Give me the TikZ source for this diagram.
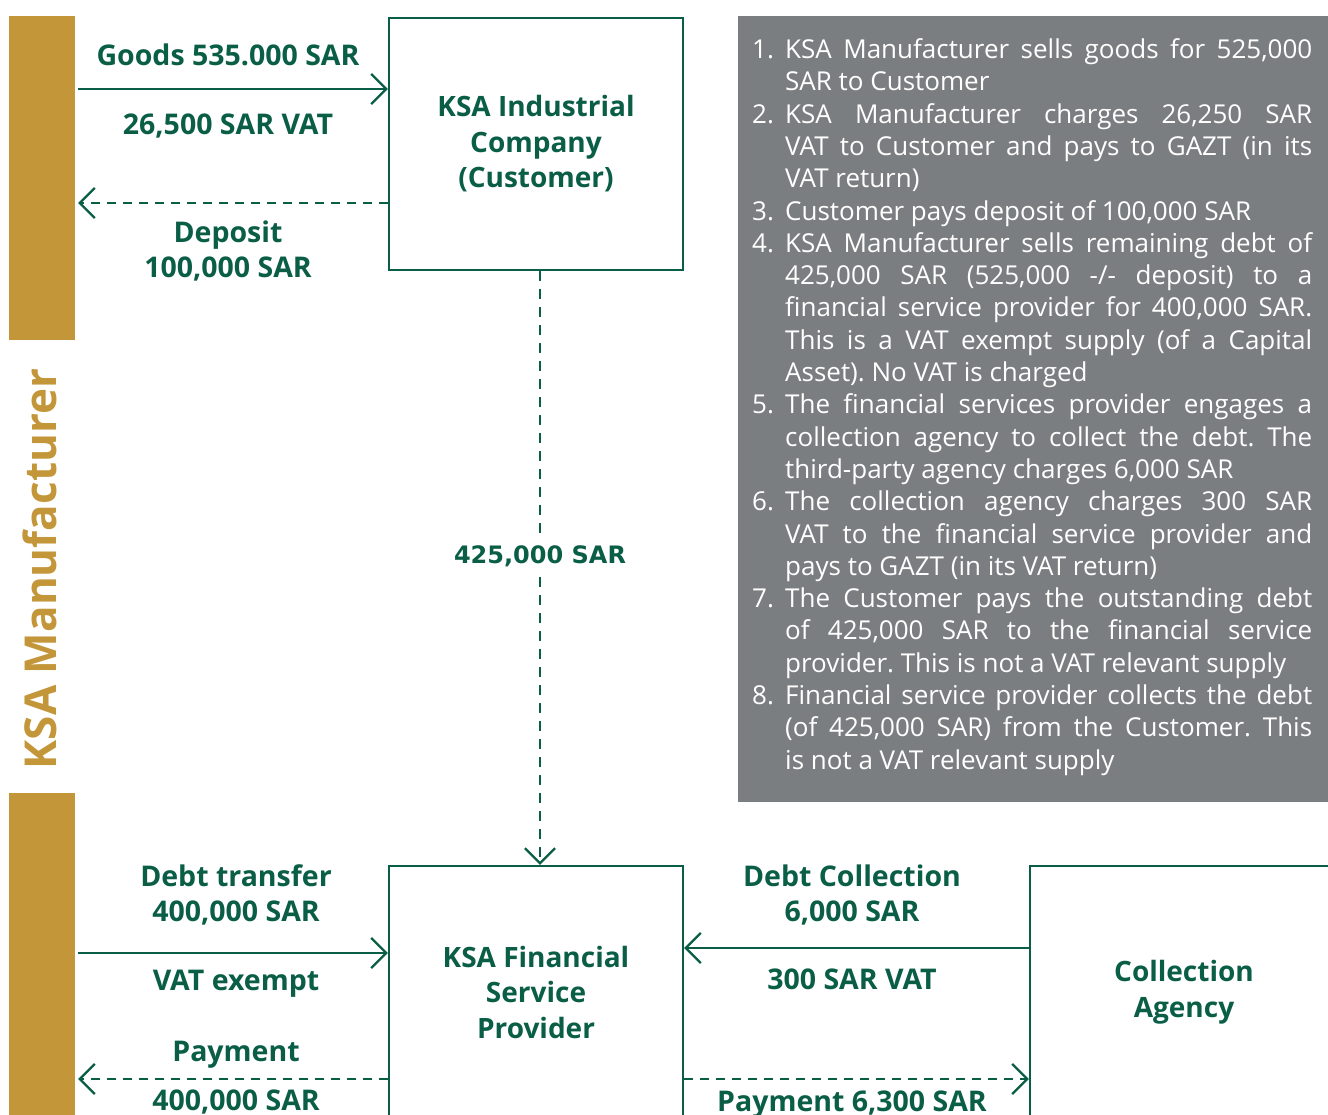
\documentclass[tikz,border=0pt]{standalone}
\usepackage{fontspec}
\setmainfont{Open Sans}
\newfontfamily\amountfont{DejaVu Sans}
\usetikzlibrary{arrows.meta}
\definecolor{kgreen}{RGB}{10,94,70}
\definecolor{kgold}{RGB}{196,150,58}
\definecolor{kgray}{RGB}{123,126,128}
% numbered paragraph with hanging indent
\newcommand{\stepitem}[2]{\par\noindent\hangindent=33pt\hangafter=1\makebox[33pt][l]{#1}#2}
\frenchspacing
\begin{document}
\begin{tikzpicture}[x=1pt,y=-1pt,
  flow/.style={draw=kgreen, line width=2.3pt,
    -{Straight Barb[length=15pt,width=30pt,line width=2.3pt]}},
  dashflow/.style={flow, dash pattern=on 9pt off 7pt},
  party/.style={draw=kgreen, line width=2.4pt, rectangle, inner sep=0pt,
    text=kgreen, align=center, font=\bfseries\fontsize{28}{35.5}\selectfont},
  lbl/.style={text=kgreen, align=center, inner sep=0pt,
    font=\bfseries\fontsize{28.5}{35.5}\selectfont},
  bar/.style={fill=kgold, inner sep=0pt, minimum width=66pt}]
\useasboundingbox (0,0) rectangle (1328,1114);
\fill[white] (0,0) rectangle (1328,1114);

% side bars of the manufacturer
\node[bar, minimum height=324pt] (bartop) at (42,178) {};
\node[bar, minimum height=340pt] (barbot) at (42,963) {};
\node[rotate=90, text=kgold, font=\bfseries\fontsize{44}{50}\selectfont] (maker) at (40,569) {KSA Manufacturer};

% parties
\node[party, minimum width=294pt, minimum height=252pt] (cust) at (536,144)
  {KSA Industrial\\Company\\(Customer)};
\node[party, minimum width=294pt, minimum height=252pt] (fsp) at (536,992)
  {KSA Financial\\Service\\Provider};
\node[party, minimum width=308pt, minimum height=252pt] (agency) at (1184,992)
  {Collection\\Agency};

% rows of the flows
\coordinate (r1) at (0,89);
\coordinate (r2) at (0,203);
\coordinate (r3) at (0,953);
\coordinate (r4) at (0,1079);
\coordinate (r5) at (0,948);

\draw[flow] ([xshift=3pt]bartop.east |- r1) -- (cust.west |- r1);
\draw[dashflow] (cust.west |- r2) -- ([xshift=3pt]bartop.east |- r2);
\draw[flow] ([xshift=3pt]barbot.east |- r3) -- (fsp.west |- r3);
\draw[dashflow] (fsp.west |- r4) -- ([xshift=3pt]barbot.east |- r4);
\draw[flow] (agency.west |- r5) -- (fsp.east |- r5);
\draw[dashflow] (fsp.east |- r4) -- (agency.west |- r4);
\draw[dashflow, dash pattern=on 10pt off 8pt] ([xshift=4pt]cust.south) -- ([xshift=4pt]fsp.north)
  node[pos=0.48, fill=white, inner sep=7pt, text=kgreen,
       font=\amountfont\bfseries\fontsize{24}{26}\selectfont] (debt) {425,000 SAR};

% flow labels
\node[lbl] (goods) at (228,55) {Goods 535.000 SAR};
\node[lbl] (goodsvat) at (228,126) {26,500 SAR VAT};
\node[lbl] (deposit) at (228,251) {Deposit\\100,000 SAR};
\node[lbl] (transfer) at (236,895) {Debt transfer\\400,000 SAR};
\node[lbl] (exempt) at (236,984) {VAT exempt};
\node[lbl] (payA) at (236,1055) {Payment};
\node[lbl] (payB) at (236,1102) {400,000 SAR};
\node[lbl] (collect) at (852,895) {Debt Collection\\6,000 SAR};
\node[lbl] (collectvat) at (852,979) {300 SAR VAT};
\node[lbl] (payC) at (852,1105) {Payment 6,300 SAR};

% explanatory notes
\node[fill=kgray, minimum width=590pt, minimum height=786pt, inner sep=0pt,
  anchor=north west] (notesbg) at (738,16) {};
\node[anchor=north west, inner sep=0pt, text width=560pt, align=justify, text=white,
  font=\fontsize{26}{32.3}\selectfont] (notes) at (752,26) {%
  \tolerance=9999\hyphenpenalty=10000\emergencystretch=0pt
  \stepitem{1.}{KSA Manufacturer sells goods for 525,000 \linebreak SAR to Customer}
  \stepitem{2.}{KSA Manufacturer charges 26,250 SAR \linebreak VAT to Customer and pays to GAZT (in its \linebreak VAT return)}
  \stepitem{3.}{Customer pays deposit of 100,000 SAR}
  \stepitem{4.}{KSA Manufacturer sells remaining debt of \linebreak 425,000 SAR (525,000 -/- deposit) to a \linebreak financial service provider for 400,000 SAR. \linebreak This is a VAT exempt supply (of a Capital \linebreak Asset). No VAT is charged}
  \stepitem{5.}{The financial services provider engages a \linebreak collection agency to collect the debt. The \linebreak third-party agency charges 6,000 SAR}
  \stepitem{6.}{The collection agency charges 300 SAR \linebreak VAT to the financial service provider and \linebreak pays to GAZT (in its VAT return)}
  \stepitem{7.}{The Customer pays the outstanding debt \linebreak of 425,000 SAR to the financial service \linebreak provider. This is not a VAT relevant supply}
  \stepitem{8.}{Financial service provider collects the debt \linebreak (of 425,000 SAR) from the Customer. This \linebreak is not a VAT relevant supply}\par};
\end{tikzpicture}
\end{document}
